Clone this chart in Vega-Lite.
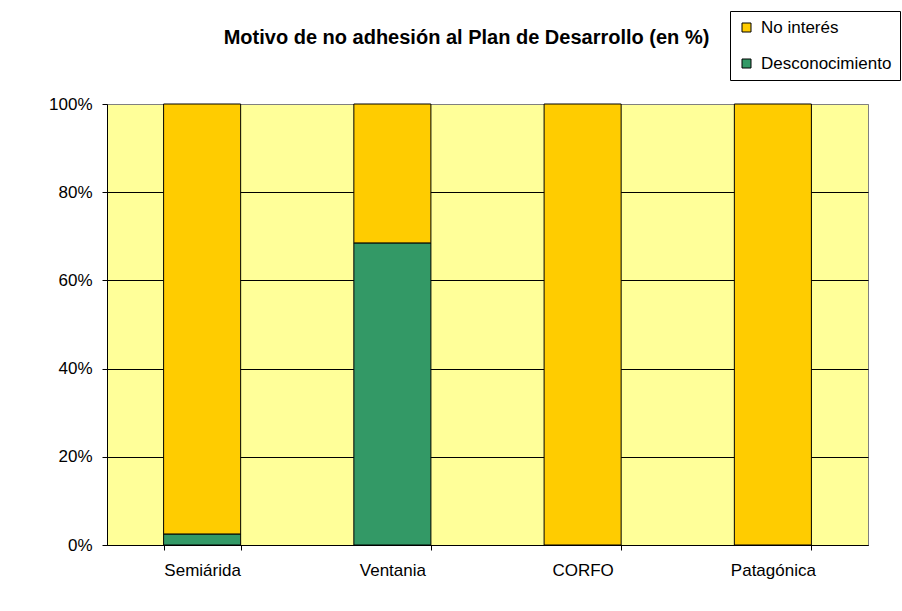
{
  "$schema": "https://vega.github.io/schema/vega-lite/v6.json",
  "width": 761,
  "height": 441,
  "autosize": {"type": "none"},
  "padding": {"left": 107, "top": 104, "right": 34, "bottom": 66},
  "background": "white",
  "title": {
    "text": "Motivo de no adhesión al Plan de Desarrollo (en %)",
    "font": "Liberation Sans",
    "fontSize": 20,
    "fontWeight": "bold",
    "color": "black",
    "anchor": "middle",
    "frame": "group",
    "baseline": "alphabetic",
    "dx": -21,
    "offset": 0,
    "dy": 53
  },
  "data": {
    "values": [
      {"region": "Semiárida", "motivo": "Desconocimiento", "pct": 2.5},
      {"region": "Semiárida", "motivo": "No interés", "pct": 97.5},
      {"region": "Ventania", "motivo": "Desconocimiento", "pct": 68.5},
      {"region": "Ventania", "motivo": "No interés", "pct": 31.5},
      {"region": "CORFO", "motivo": "Desconocimiento", "pct": 0},
      {"region": "CORFO", "motivo": "No interés", "pct": 100},
      {"region": "Patagónica", "motivo": "Desconocimiento", "pct": 0},
      {"region": "Patagónica", "motivo": "No interés", "pct": 100}
    ]
  },
  "mark": {"type": "bar", "stroke": "black", "strokeWidth": 1},
  "encoding": {
    "x": {
      "field": "region",
      "type": "nominal",
      "sort": ["Semiárida", "Ventania", "CORFO", "Patagónica"],
      "scale": {"paddingInner": 0.595, "paddingOuter": 0.2975},
      "axis": {
        "title": null,
        "labelAngle": 0,
        "labelFont": "Liberation Sans",
        "labelFontSize": 17,
        "labelColor": "black",
        "labelPadding": 12,
        "tickBand": "extent",
        "tickSize": 5,
        "tickColor": "black",
        "domainColor": "black",
        "grid": false
      }
    },
    "y": {
      "field": "pct",
      "type": "quantitative",
      "stack": "normalize",
      "scale": {"domain": [0, 1], "nice": false},
      "axis": {
        "title": null,
        "values": [0, 0.2, 0.4, 0.6, 0.8, 1],
        "format": ".0%",
        "labelFont": "Liberation Sans",
        "labelFontSize": 17,
        "labelColor": "black",
        "labelPadding": 10,
        "tickSize": 5,
        "tickColor": "black",
        "domainColor": "black",
        "grid": true,
        "gridColor": {"condition": {"test": "datum.value >= 1", "value": "#808080"}, "value": "black"},
        "gridOpacity": 1
      }
    },
    "color": {
      "field": "motivo",
      "type": "nominal",
      "scale": {"domain": ["No interés", "Desconocimiento"], "range": ["#FFCC00", "#339966"]},
      "legend": {
        "title": null,
        "orient": "none",
        "legendX": 623,
        "legendY": -93,
        "direction": "vertical",
        "symbolType": "square",
        "symbolSize": 81,
        "symbolStrokeColor": "black",
        "symbolStrokeWidth": 1,
        "symbolOpacity": 1,
        "labelFont": "Liberation Sans",
        "labelFontSize": 17,
        "labelColor": "black",
        "labelOffset": 6,
        "rowPadding": 18,
        "padding": 8,
        "strokeColor": "black",
        "fillColor": "white"
      }
    },
    "order": {"field": "motivo", "sort": "ascending"}
  },
  "config": {
    "view": {"fill": "#FFFF99", "stroke": "#808080", "strokeWidth": 1}
  }
}
